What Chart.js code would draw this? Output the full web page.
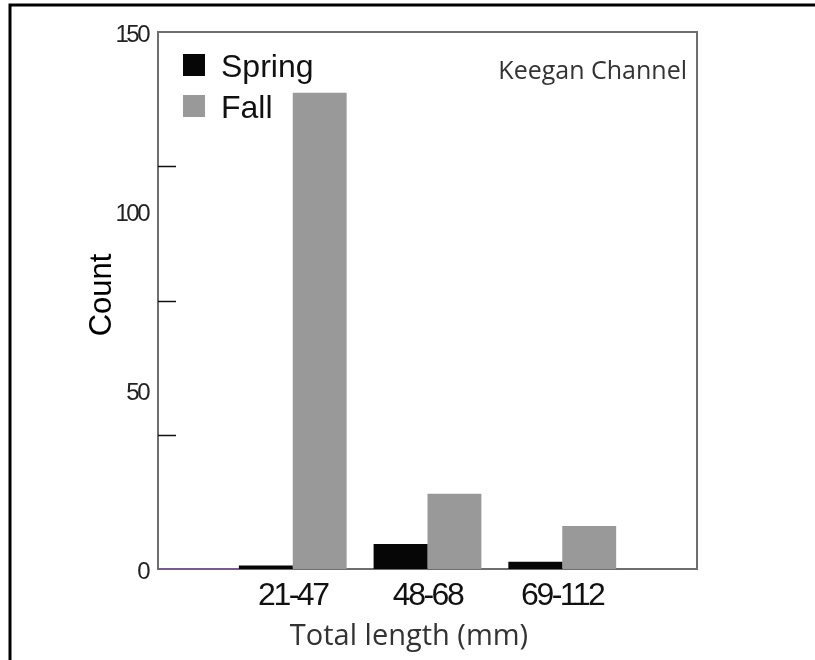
<!DOCTYPE html>
<html>
<head>
<meta charset="utf-8">
<script src="https://cdn.jsdelivr.net/npm/chart.js@4.4.1/dist/chart.umd.min.js"></script>
<style>
  html, body { margin: 0; padding: 0; background: #fff; }
  canvas { display: block; }
</style>
</head>
<body>
<canvas id="c" width="815" height="660"></canvas>
<script>
// ---- data ----
const categories = ["", "21-47", "48-68", "69-112", ""];
const springCounts = [null, 1, 7, 2, null];
const fallCounts = [null, 133, 21, 12, null];
const seriesNames = ["Spring", "Fall"];
const yTickValues = [0, 50, 100, 150];
const innerTickValues = [37.5, 75, 112.5];
const xTitle = "Total length (mm)";
const yTitle = "Count";
const panelLabel = "Keegan Channel";

const springColor = "#060606";
const fallColor = "#999999";

const framePlugin = {
  id: "frame",
  afterDatasetsDraw(chart) {
    // condensed look for the tick labels (drawn after datasets, z = 1)
    chart.ctx.letterSpacing = "-2.5px";
  },
  afterDraw(chart) {
    const ctx = chart.ctx;
    ctx.letterSpacing = "0px";
    const a = chart.chartArea;
    const y = chart.scales.y;
    ctx.save();
    // outer page frame
    ctx.strokeStyle = "#000";
    ctx.lineWidth = 3;
    ctx.beginPath();
    ctx.moveTo(10, 660);
    ctx.lineTo(10, 5);
    ctx.lineTo(815, 5);
    ctx.stroke();
    // plot box top & right
    ctx.strokeStyle = "#6e6e6e";
    ctx.lineWidth = 2;
    ctx.beginPath();
    ctx.moveTo(a.left, a.top);
    ctx.lineTo(a.right, a.top);
    ctx.lineTo(a.right, a.bottom);
    ctx.stroke();
    // purple baseline segment before first bar
    const firstBar = chart.getDatasetMeta(0).data[1];
    if (firstBar) {
      ctx.strokeStyle = "#7a5a86";
      ctx.lineWidth = 2;
      ctx.beginPath();
      ctx.moveTo(a.left, a.bottom);
      ctx.lineTo(firstBar.x - firstBar.width / 2, a.bottom);
      ctx.stroke();
    }
    // inward tick marks
    ctx.strokeStyle = "#111";
    ctx.lineWidth = 1.5;
    innerTickValues.forEach(v => {
      const py = Math.round(y.getPixelForValue(v)) + 0.5;
      ctx.beginPath();
      ctx.moveTo(a.left, py);
      ctx.lineTo(a.left + 18, py);
      ctx.stroke();
    });
    // legend
    ctx.font = "32px 'Liberation Sans', Arial, sans-serif";
    ctx.textBaseline = "alphabetic";
    ctx.textAlign = "left";
    chart.data.datasets.forEach((ds, i) => {
      const top = a.top + 22 + i * 41;
      ctx.fillStyle = ds.backgroundColor;
      ctx.fillRect(a.left + 25, top, 22, 22);
      ctx.fillStyle = "#111";
      ctx.fillText(ds.label, a.left + 63, top + 23);
    });
    // panel label
    ctx.font = "25px 'Open Sans', 'Noto Sans', sans-serif";
    ctx.fillStyle = "#333";
    ctx.textAlign = "right";
    ctx.fillText(panelLabel, a.right - 10, a.top + 47);
    // x axis title
    ctx.font = "29px 'Open Sans', 'Noto Sans', sans-serif";
    ctx.fillStyle = "#333";
    ctx.textAlign = "center";
    ctx.fillText(xTitle, 409, 645);
    // y axis title
    ctx.translate(102, 295);
    ctx.rotate(-Math.PI / 2);
    ctx.font = "31px 'Liberation Sans', Arial, sans-serif";
    ctx.fillStyle = "#000";
    ctx.textAlign = "center";
    ctx.textBaseline = "middle";
    ctx.fillText(yTitle, 0, 0);
    ctx.restore();
  }
};

new Chart(document.getElementById("c"), {
  type: "bar",
  data: {
    labels: categories,
    datasets: [
      { label: seriesNames[0], data: springCounts, backgroundColor: springColor, borderWidth: 0 },
      { label: seriesNames[1], data: fallCounts, backgroundColor: fallColor, borderWidth: 0 }
    ]
  },
  options: {
    responsive: false,
    animation: false,
    events: [],
    datasets: { bar: { categoryPercentage: 0.8, barPercentage: 1.0 } },
    layout: { padding: { left: 83, top: 32, right: 118, bottom: 0 } },
    plugins: { legend: { display: false }, tooltip: { enabled: false } },
    scales: {
      x: {
        offset: false,
        grid: { display: false, drawTicks: false },
        border: { color: "#6e6e6e", width: 2 },
        ticks: {
          z: 1,
          font: { family: "'Liberation Sans', Arial, sans-serif", size: 32 },
          color: "#111", padding: 8, maxRotation: 0, autoSkip: false
        },
        afterFit(s) { s.height = 91; }
      },
      y: {
        min: 0, max: 150,
        afterBuildTicks(s) { s.ticks = yTickValues.map(v => ({ value: v })); },
        grid: { display: false, drawTicks: false },
        border: { color: "#6e6e6e", width: 2 },
        ticks: {
          z: 1,
          font: { family: "'Liberation Sans', Arial, sans-serif", size: 24 },
          color: "#222", padding: 10, labelOffset: 3
        },
        afterFit(s) { s.width = 75; }
      }
    }
  },
  plugins: [framePlugin]
});
</script>
</body>
</html>
